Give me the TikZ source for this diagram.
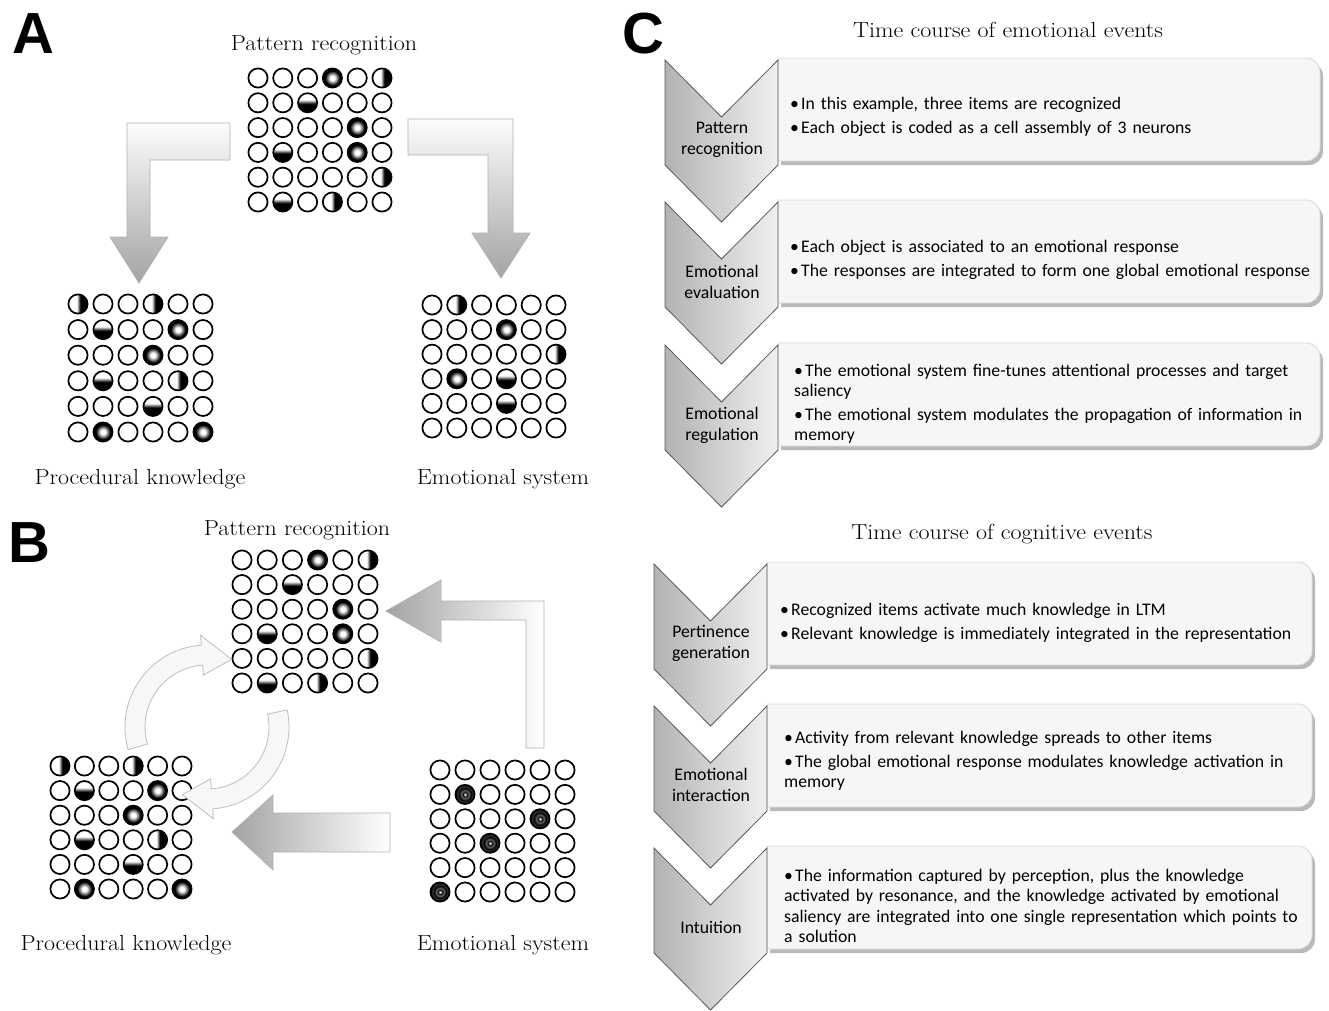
\documentclass[tikz,border=0pt]{standalone}
\usepackage{fontspec}
\newfontfamily\calib{Carlito}
\newfontfamily\lsans{Liberation Sans}
\usetikzlibrary{calc}
\definecolor{dgA}{gray}{0.40}
\definecolor{dgB}{gray}{0.22}
\pgfdeclareradialshading{cellR}{\pgfpoint{0bp}{0bp}}{color(0bp)=(white); color(6bp)=(white); color(19bp)=(black); color(50bp)=(black)}
\pgfdeclareradialshading{cellD}{\pgfpoint{0bp}{0bp}}{color(0bp)=(white); color(1.5bp)=(white); color(4.5bp)=(black); color(10bp)=(dgA); color(16bp)=(black); color(20bp)=(dgB); color(25bp)=(black); color(50bp)=(black)}
\pgfdeclareverticalshading{cellH}{100bp}{color(0bp)=(black); color(47bp)=(black); color(58bp)=(white); color(100bp)=(white)}
\pgfdeclarehorizontalshading{cellV}{100bp}{color(0bp)=(white); color(47bp)=(white); color(56bp)=(black); color(100bp)=(black)}
\newcommand\cellgrid[5]{%
  \foreach \rw/\cl/\ty in {#5} {\shade[shading=cell\ty] (#1+\cl*#3,#2+\rw*#4) circle[radius=9.6];}
  \foreach \rw in {0,...,5}{\foreach \cl in {0,...,5}{\draw[cellline] (#1+\cl*#3,#2+\rw*#4) circle[radius=9.6];}}%
}
\newcommand\chevpath[2]{(#1,#2) -- (#1+56.5,#2+57) -- (#1+113,#2) -- (#1+113,#2+105) -- (#1+56.5,#2+162) -- (#1,#2+105) -- cycle}
\newcommand\infobox[3]{%
  \fill[gray!55] ([shift={(3,4)}]#1,#2-2) -- ([shift={(3,4)}]#3-14,#2-2) arc[start angle=-90,end angle=0,radius=14] -- ([shift={(3,4)}]#3,#2+87) arc[start angle=0,end angle=90,radius=14] -- ([shift={(3,4)}]#1,#2+101) -- cycle;
  \draw[boxst] (#1,#2-2) -- (#3-14,#2-2) arc[start angle=-90,end angle=0,radius=14] -- (#3,#2+87) arc[start angle=0,end angle=90,radius=14] -- (#1,#2+101) -- cycle;
}
\newcommand\curvarrow[4]{%
  \path[#1] ($(cc)+(#2:82)$) arc[start angle=#2, end angle=#3, radius=82] -- ($(cc)+(#3:92)$) -- ($(cc)+(#4:72)$) -- ($(cc)+(#3:52)$) -- ($(cc)+(#3:62)$) arc[start angle=#3, end angle=#2, radius=62] -- cycle;
}
\newcommand\bl{\par\hangindent=11pt\hangafter=1\noindent\makebox[11pt][l]{\textbullet}}
\newcommand\sw[1]{\scalebox{1.1}[1]{#1}}
\tikzset{
  cellline/.style={line width=1.7pt, draw=black},
  lett/.style={font=\lsans\bfseries\fontsize{58}{58}\selectfont, inner sep=0pt},
  lab/.style={font=\fontsize{21.8}{26}\selectfont, anchor=base, inner sep=0pt},
  arrA/.style={top color=gray!2, bottom color=gray!72, draw=gray!60, line width=0.8pt},
  arrB/.style={left color=gray!72, right color=white, draw=gray!60, line width=0.8pt},
  curv/.style={fill=gray!6, draw=gray!50, line width=0.8pt},
  curvsh/.style={fill=gray!40, opacity=0.5},
  chev/.style={left color=gray!60, right color=gray!12, draw=black!65, line width=0.8pt},
  boxst/.style={fill=gray!7, draw=gray!30, line width=0.8pt},
  chevlab/.style={font=\calib\fontsize{17.7}{21}\selectfont, align=center, inner sep=0pt},
  btxt/.style={anchor=west, text width=560pt, align=left, inner sep=0pt, font=\calib\fontsize{17.7}{20.3}\selectfont},
}
\begin{document}
\begin{tikzpicture}[x=1pt,y=-1pt]
\useasboundingbox (0,0) rectangle (1329,1010);
\fill[white] (0,0) rectangle (1329,1010);
% panel letters
\node[lett] (lA) at (33,34) {A};
\node[lett] (lB) at (29,543) {B};
\node[lett] (lC) at (643,34) {C};
% ---------- Panel A ----------
\node[lab] (aPR) at (324,50) {\sw{Pattern recognition}};
\node[lab] (aPK) at (140,484) {\sw{Procedural knowledge}};
\node[lab] (aES) at (503,484) {\sw{Emotional system}};
\draw[arrA] (230,123) -- (127,123) -- (127,237) -- (110,237) -- (139,283) -- (168,237) -- (150,237) -- (150,160) -- (230,160) -- cycle;
\draw[arrA] (408,119) -- (513,119) -- (513,233) -- (530,233) -- (501,278) -- (472,233) -- (488,233) -- (488,155) -- (408,155) -- cycle;
\cellgrid{258}{78}{24.8}{24.8}{0/3/R,0/5/V,1/2/H,2/4/R,3/1/H,3/4/R,4/5/V,5/1/H,5/3/V}
\cellgrid{78}{304}{25}{25.6}{0/0/V,0/3/V,1/1/H,1/4/R,2/3/R,3/1/H,3/4/V,4/3/H,5/1/R,5/5/R}
\cellgrid{432}{305}{24.8}{24.6}{0/1/V,1/3/R,2/5/V,3/1/R,3/3/H,4/3/H}
% ---------- Panel B ----------
\node[lab] (bPR) at (297,535) {\sw{Pattern recognition}};
\node[lab] (bPK) at (126,950) {\sw{Procedural knowledge}};
\node[lab] (bES) at (503,950) {\sw{Emotional system}};
\draw[arrB] (526,748) -- (544,748) -- (544,601) -- (441,601) -- (441,580) -- (386,611) -- (441,642) -- (441,620) -- (526,620) -- cycle;
\draw[arrB] (390,813) -- (273,813) -- (273,795) -- (232,832) -- (273,870) -- (273,852) -- (390,852) -- cycle;
\cellgrid{242}{560}{25.2}{24.6}{0/3/R,0/5/V,1/2/H,2/4/R,3/1/H,3/4/R,4/5/V,5/1/H,5/3/V}
\cellgrid{60}{766}{24.4}{24.6}{0/0/V,0/3/V,1/1/H,1/4/R,2/3/R,3/1/H,3/4/V,4/3/H,5/1/R,5/5/R}
\cellgrid{440}{770}{25}{24.4}{1/1/D,2/4/D,3/2/D,5/0/D}
\coordinate (cc) at (207,727);
\begin{scope}[shift={(2,3)}]
\curvarrow{curvsh}{164}{266}{290}
\curvarrow{curvsh}{-12}{86}{110}
\end{scope}
\curvarrow{curv}{164}{266}{290}
\curvarrow{curv}{-12}{86}{110}
% ---------- Panel C ----------
\node[lab] (hE) at (1008,37) {\sw{Time course of emotional events}};
\node[lab] (hC) at (1002,539) {\sw{Time course of cognitive events}};
% emotional
\infobox{778}{60}{1320}
\infobox{778}{202}{1320}
\infobox{778}{345}{1320}
\draw[chev] \chevpath{665}{60};
\draw[chev] \chevpath{665}{202};
\draw[chev] \chevpath{665}{345};
\node[chevlab] (e1) at (722,140) {Pattern\\recognition};
\node[chevlab] (e2) at (722,282) {Emotional\\evaluation};
\node[chevlab] (e3) at (722,425) {Emotional\\regulation};
\node[btxt] (t1) at (790,111) {\setlength{\parskip}{3.7pt}\bl In this example, three items are recognized\bl Each object is coded as a cell assembly of 3 neurons};
\node[btxt] (t2) at (790,254) {\setlength{\parskip}{3.7pt}\bl Each object is associated to an emotional response\bl The responses are integrated to form one global emotional response};
\node[btxt] (t3) at (794,398) {\setlength{\parskip}{3.7pt}\bl The emotional system fine-tunes attentional processes and target\\saliency\bl The emotional system modulates the propagation of information in\\memory};
% cognitive
\infobox{767}{564}{1312}
\infobox{767}{706}{1312}
\infobox{767}{848}{1312}
\draw[chev] \chevpath{654}{564};
\draw[chev] \chevpath{654}{706};
\draw[chev] \chevpath{654}{848};
\node[chevlab] (c1) at (711,643) {Pertinence\\generation};
\node[chevlab] (c2) at (711,785) {Emotional\\interaction};
\node[chevlab] (c3) at (711,927) {Intuition};
\node[btxt] (u1) at (780,617) {\setlength{\parskip}{3.7pt}\bl Recognized items activate much knowledge in LTM\bl Relevant knowledge is immediately integrated in the representation};
\node[btxt] (u2) at (784,755) {\setlength{\parskip}{3.7pt}\bl Activity from relevant knowledge spreads to other items\bl The global emotional response modulates knowledge activation in\\memory};
\node[btxt] (u3) at (784,900) {\setlength{\parskip}{3.7pt}\bl The information captured by perception, plus the knowledge\\activated by resonance, and the knowledge activated by emotional\\saliency are integrated into one single representation which points to\\a solution};
\end{tikzpicture}
\end{document}
